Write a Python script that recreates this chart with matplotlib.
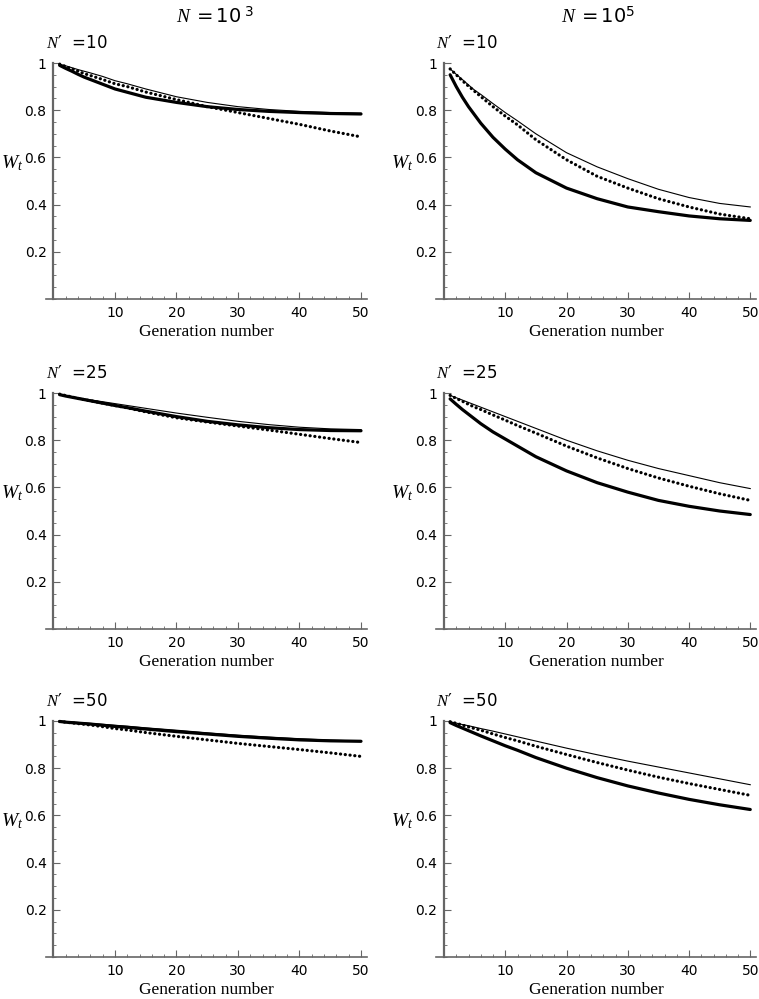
import numpy as np
import matplotlib.pyplot as plt
from matplotlib.ticker import MultipleLocator

plt.rcParams["mathtext.fontset"] = "custom"
plt.rcParams["mathtext.it"] = "Liberation Serif:italic"
plt.rcParams["mathtext.rm"] = "DejaVu Sans"

gen = [1, 2, 3, 4, 5, 6, 8, 10, 12, 15, 20, 25, 30, 35, 40, 45, 50]

# N = 10^3
thin_1e3_10 = [0.995, 0.988, 0.98, 0.972, 0.965, 0.958, 0.943, 0.925, 0.912, 0.89, 0.857, 0.833, 0.815, 0.803, 0.795, 0.79, 0.787]
thick_1e3_10 = [0.99, 0.977, 0.965, 0.952, 0.94, 0.93, 0.91, 0.89, 0.876, 0.855, 0.833, 0.815, 0.803, 0.795, 0.79, 0.786, 0.784]
dot_1e3_10 = [0.995, 0.985, 0.975, 0.965, 0.955, 0.947, 0.93, 0.912, 0.9, 0.877, 0.845, 0.815, 0.79, 0.765, 0.74, 0.712, 0.687]

thin_1e3_25 = [0.995, 0.99, 0.985, 0.98, 0.975, 0.971, 0.963, 0.955, 0.947, 0.935, 0.915, 0.897, 0.88, 0.866, 0.855, 0.848, 0.845]
thick_1e3_25 = [0.993, 0.987, 0.982, 0.977, 0.972, 0.967, 0.957, 0.947, 0.938, 0.923, 0.9, 0.88, 0.865, 0.853, 0.845, 0.841, 0.84]
dot_1e3_25 = [0.995, 0.989, 0.983, 0.977, 0.972, 0.967, 0.957, 0.947, 0.937, 0.92, 0.895, 0.877, 0.86, 0.843, 0.825, 0.807, 0.79]

thin_1e3_50 = [1.0, 0.998, 0.996, 0.994, 0.992, 0.99, 0.986, 0.982, 0.978, 0.971, 0.961, 0.95, 0.94, 0.932, 0.925, 0.919, 0.915]
thick_1e3_50 = [0.998, 0.995, 0.993, 0.991, 0.989, 0.987, 0.982, 0.977, 0.973, 0.966, 0.955, 0.945, 0.935, 0.927, 0.92, 0.916, 0.914]
dot_1e3_50 = [0.998, 0.995, 0.992, 0.989, 0.986, 0.983, 0.976, 0.968, 0.962, 0.951, 0.935, 0.92, 0.905, 0.892, 0.879, 0.865, 0.85]

# N = 10^5
thin_1e5_10 = [0.975, 0.952, 0.93, 0.907, 0.885, 0.867, 0.828, 0.79, 0.755, 0.7, 0.62, 0.56, 0.51, 0.465, 0.43, 0.405, 0.39]
thick_1e5_10 = [0.95, 0.9, 0.855, 0.815, 0.78, 0.745, 0.685, 0.635, 0.59, 0.535, 0.47, 0.425, 0.39, 0.37, 0.352, 0.34, 0.333]
dot_1e5_10 = [0.975, 0.95, 0.925, 0.902, 0.88, 0.858, 0.815, 0.775, 0.738, 0.675, 0.59, 0.52, 0.47, 0.425, 0.39, 0.36, 0.34]

thin_1e5_25 = [0.99, 0.98, 0.97, 0.96, 0.95, 0.94, 0.92, 0.9, 0.88, 0.85, 0.8, 0.755, 0.715, 0.68, 0.65, 0.62, 0.595]
thick_1e5_25 = [0.975, 0.952, 0.93, 0.91, 0.89, 0.87, 0.835, 0.805, 0.775, 0.73, 0.67, 0.62, 0.58, 0.545, 0.52, 0.5, 0.485]
dot_1e5_25 = [0.99, 0.977, 0.965, 0.952, 0.94, 0.93, 0.907, 0.885, 0.862, 0.83, 0.775, 0.725, 0.68, 0.64, 0.605, 0.573, 0.545]

thin_1e5_50 = [0.997, 0.991, 0.985, 0.98, 0.974, 0.968, 0.957, 0.945, 0.933, 0.915, 0.885, 0.857, 0.83, 0.805, 0.78, 0.755, 0.73]
thick_1e5_50 = [0.993, 0.981, 0.97, 0.959, 0.948, 0.937, 0.916, 0.895, 0.876, 0.845, 0.8, 0.76, 0.725, 0.695, 0.668, 0.645, 0.625]
dot_1e5_50 = [0.997, 0.99, 0.983, 0.975, 0.968, 0.961, 0.945, 0.93, 0.916, 0.893, 0.858, 0.824, 0.792, 0.762, 0.735, 0.71, 0.685]

rows_n = ["10", "25", "50"]
col_titles = [r"$N\ \mathrm{=10}^{\ 3}$", r"$N\ \mathrm{=10}^{5}$"]
panels = [
    [(thin_1e3_10, thick_1e3_10, dot_1e3_10), (thin_1e5_10, thick_1e5_10, dot_1e5_10)],
    [(thin_1e3_25, thick_1e3_25, dot_1e3_25), (thin_1e5_25, thick_1e5_25, dot_1e5_25)],
    [(thin_1e3_50, thick_1e3_50, dot_1e3_50), (thin_1e5_50, thick_1e5_50, dot_1e5_50)],
]

W, H = 759, 999
fig = plt.figure(figsize=(W / 100, H / 100), dpi=100)

axis_col = "#666666"
sans = "DejaVu Sans"
serif = "Liberation Serif"

# pixel placement of each panel: x=0 position, px per generation, y=1 and y=0 rows
col_left = [53.5, 444]
px_per_unit = [6.15, 6.125]
row_top = [63, 393, 721]
row_bot = [299, 629, 957]

x0, x1 = -1.3, 51.0
for r in range(3):
    for c in range(2):
        left = col_left[c] + x0 * px_per_unit[c]
        right = col_left[c] + x1 * px_per_unit[c]
        top, bot = row_top[r] - 2, row_bot[r]
        ax = fig.add_axes([left / W, 1 - bot / H, (right - left) / W, (bot - top) / H])
        thin, thick, dot = panels[r][c]
        ax.plot(gen, thin, color="black", lw=0.8)
        ax.plot(gen, thick, color="black", lw=2.3, solid_capstyle="round")
        ax.plot(gen, dot, color="black", lw=2.3, linestyle=(0, (0.05, 1.45)),
                dash_capstyle="round")
        ax.set_xlim(x0, x1)
        ax.set_ylim(0, 1 + 2 / 236)
        for s in ["top", "right"]:
            ax.spines[s].set_visible(False)
        ax.spines["left"].set_position(("data", 0))
        ax.spines["left"].set_bounds(0, 1)
        ax.spines["left"].set_color(axis_col)
        ax.spines["left"].set_linewidth(1.6)
        ax.spines["bottom"].set_color(axis_col)
        ax.spines["bottom"].set_linewidth(1.2)
        ax.set_xticks([10, 20, 30, 40, 50])
        ax.xaxis.set_minor_locator(MultipleLocator(2))
        ax.set_yticks([0.2, 0.4, 0.6, 0.8, 1.0])
        ax.set_yticklabels(["0.2", "0.4", "0.6", "0.8", "1"])
        ax.yaxis.set_minor_locator(MultipleLocator(0.05))
        ax.tick_params(which="both", direction="in", color=axis_col, labelsize=10,
                       pad=5)
        ax.tick_params(which="major", length=5, width=0.8)
        ax.tick_params(which="minor", length=2.5, width=0.6)
        for lab in ax.get_xticklabels() + ax.get_yticklabels():
            lab.set_family(sans)
        ax.set_xlabel("Generation number", family=serif, fontsize=12.5, labelpad=3)
        ax.set_ylabel("$W_t$", fontsize=14, rotation=0)
        ax.yaxis.set_label_coords(-0.105, 0.53)
        ax.text(0, 1.085, "$N$\u2032  =" + rows_n[r],
                transform=ax.get_yaxis_transform(), fontsize=12, family=sans,
                ha="left", va="center")

fig.text(215 / W, 1 - 17 / H, col_titles[0], fontsize=14, ha="center", va="center")
fig.text(598 / W, 1 - 17 / H, col_titles[1], fontsize=14, ha="center", va="center")

fig.savefig("out.png", dpi=100)
